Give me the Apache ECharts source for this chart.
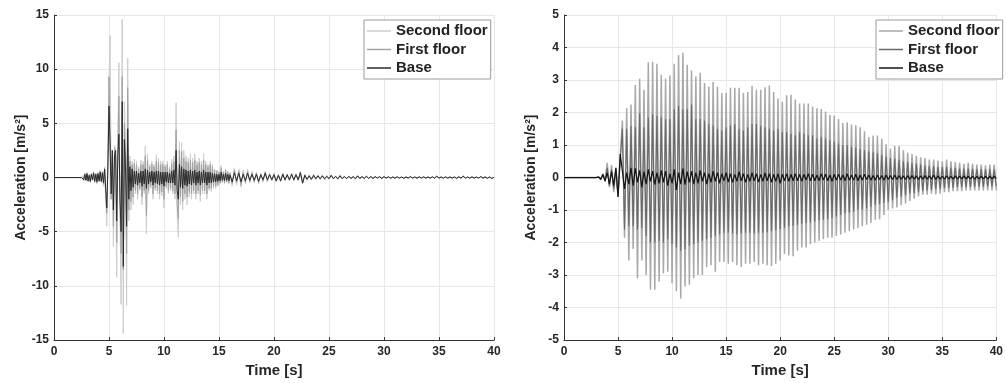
<!DOCTYPE html>
<html><head><meta charset="utf-8">
<script src="https://cdn.jsdelivr.net/npm/echarts@6/dist/echarts.min.js"></script>
<style>html,body{margin:0;padding:0;background:#fff}#c{width:1006px;height:383px}</style>
</head><body><div id="c"></div>
<script>
// ---- Left panel: sampled at 0, then 2.5..16.0 (0.1 s), then 16.2..40.0 (0.2 s)
const leftSecond = [0,
 0,0.2,-0.3,0.4,-0.3,0.5,-0.4,0.3,-0.5,0.4,
 -0.3,0.6,-0.5,0.4,-0.6,0.5,-0.4,0.7,-0.5,0.6,
 -0.8,1.0,-2.0,-4.5,2.0,9.0,13.1,-2.0,2.5,-6.4,
 3.0,2.6,-9.2,3.0,10.6,-3.0,-11.7,14.6,-14.4,7.0,
 3.0,-11.8,11.0,-4.0,2.0,-3.0,1.5,-2.5,1.7,-1.5,
 1.5,-2.0,1.0,-1.2,1.6,-2.5,1.5,-1.5,2.9,-5.2,
 2.2,-1.5,1.2,-1.0,1.5,-2.0,1.2,-1.2,2.1,-1.5,
 1.8,-2.0,1.5,-1.7,1.5,-2.8,1.2,-1.0,1.5,-1.5,
 1.0,-1.2,1.7,-1.5,2.0,-2.0,6.9,-3.5,-5.5,3.3,
 -2.5,3.2,-3.0,2.5,-2.0,2.0,-2.5,1.8,-1.8,2.2,
 -2.0,1.8,-1.5,2.2,-2.0,1.5,-1.5,1.8,-2.2,1.5,
 -1.5,2.2,-1.5,1.5,-2.0,1.2,-1.2,1.5,-1.3,1.2,
 -1.0,0.8,-1.0,0.7,-0.8,0.6,-0.6,1.1,-0.5,0.6,
 -0.6,0.8,-0.5,0.6,-0.6,0.5,
 -0.8,0.9,-0.7,0.8,-0.9,0.7,-0.6,0.8,-0.5,0.6,
 -0.5,0.5,-0.6,0.4,-0.4,0.6,-0.4,0.4,-0.3,0.4,
 -0.4,0.3,-0.4,0.4,-0.3,0.35,-0.3,0.4,-0.3,0.35,
 -0.3,0.55,-0.6,0.3,-0.25,0.25,-0.25,0.3,-0.2,0.25,
 -0.2,0.25,-0.2,0.2,-0.15,0.25,-0.15,0.15,-0.2,0.25,
 -0.15,0.12,-0.12,0.15,-0.12,0.12,-0.15,0.2,-0.12,0.12,
 -0.12,0.15,-0.12,0.12,-0.12,0.12,-0.08,0.12,-0.12,0.12,
 -0.08,0.1,-0.1,0.08,-0.08,0.1,-0.08,0.08,-0.1,0.08,
 -0.08,0.12,-0.08,0.08,-0.1,0.1,-0.08,0.1,-0.08,0.08,
 -0.08,0.1,-0.08,0.16,-0.08,0.08,-0.08,0.1,-0.08,0.08,
 -0.08,0.08,-0.1,0.1,-0.08,0.16,-0.08,0.08,-0.08,0.1,
 -0.08,0.08,-0.08,0.12,-0.08,0.08,-0.1,0.08,-0.12,0.04];
const leftFirst = [0,
 0,0.15,-0.25,0.35,-0.25,0.4,-0.35,0.25,-0.4,0.35,
 -0.25,0.5,-0.4,0.35,-0.5,0.4,-0.35,0.6,-0.4,0.5,
 -0.6,0.8,-1.5,-3.3,1.5,9.3,4.0,-2.0,2.0,-4.5,
 2.7,2.0,-6.0,2.5,7.5,-2.5,-7.0,9.3,-8.5,5.0,
 2.0,-7.0,8.3,-3.0,1.5,-2.2,1.2,-1.8,1.3,-1.2,
 1.2,-1.5,0.8,-1.0,1.2,-1.8,1.2,-1.2,2.0,-3.5,
 1.6,-1.2,1.0,-0.8,1.2,-1.5,1.0,-1.0,1.5,-1.2,
 1.4,-1.5,1.2,-1.3,1.2,-2.0,1.0,-0.8,1.2,-1.2,
 0.8,-1.0,1.3,-1.2,1.5,-1.5,4.4,-2.5,-3.8,2.5,
 -1.8,2.4,-2.2,1.8,-1.5,1.5,-1.8,1.4,-1.4,1.6,
 -1.5,1.4,-1.2,1.6,-1.5,1.2,-1.2,1.4,-1.6,1.2,
 -1.2,1.6,-1.2,1.2,-1.5,1.0,-1.0,1.2,-1.0,1.0,
 -0.8,0.7,-0.8,0.6,-0.7,0.5,-0.5,0.9,-0.4,0.5,
 -0.5,0.7,-0.4,0.5,-0.5,0.4,
 -0.6,0.7,-0.5,0.6,-0.7,0.5,-0.45,0.6,-0.4,0.45,
 -0.4,0.4,-0.45,0.35,-0.35,0.5,-0.35,0.35,-0.25,0.35,
 -0.35,0.25,-0.35,0.35,-0.25,0.3,-0.25,0.35,-0.25,0.3,
 -0.25,0.5,-0.55,0.25,-0.2,0.2,-0.2,0.25,-0.15,0.2,
 -0.15,0.2,-0.15,0.15,-0.12,0.22,-0.12,0.12,-0.15,0.2,
 -0.1,0.1,-0.1,0.12,-0.1,0.1,-0.12,0.16,-0.1,0.1,
 -0.1,0.14,-0.1,0.1,-0.1,0.1,-0.06,0.1,-0.1,0.1,
 -0.06,0.08,-0.08,0.06,-0.06,0.08,-0.06,0.06,-0.08,0.06,
 -0.06,0.1,-0.06,0.06,-0.08,0.08,-0.06,0.08,-0.06,0.06,
 -0.06,0.08,-0.06,0.14,-0.06,0.06,-0.06,0.08,-0.06,0.06,
 -0.06,0.06,-0.08,0.08,-0.06,0.14,-0.06,0.06,-0.06,0.08,
 -0.06,0.06,-0.06,0.1,-0.06,0.06,-0.08,0.06,-0.1,0.03];
const leftBase = [0,
 0,0.1,-0.2,0.3,-0.25,0.35,-0.3,0.2,-0.35,0.3,
 -0.2,0.4,-0.35,0.3,-0.4,0.35,-0.3,0.5,-0.35,0.45,
 -0.5,0.8,-1.0,-2.8,1.0,6.6,3.0,-1.5,2.5,-3.0,
 2.0,2.5,-4.0,2.0,4.0,-2.0,-5.0,7.0,-8.2,3.5,
 1.0,-4.5,4.5,-2.0,1.0,-1.2,0.8,-0.9,0.6,-0.6,
 0.6,-0.7,0.4,-0.5,0.6,-0.8,0.6,-0.6,0.8,-1.0,
 0.7,-0.6,0.5,-0.4,0.6,-0.7,0.5,-0.5,0.6,-0.6,
 0.6,-0.7,0.5,-0.6,0.5,-0.8,0.5,-0.4,0.5,-0.5,
 0.4,-0.5,0.6,-0.5,0.7,-0.7,2.5,-1.2,-2.0,1.2,
 -0.9,1.0,-1.0,0.8,-0.7,0.7,-0.8,0.6,-0.6,0.7,
 -0.7,0.6,-0.5,0.7,-0.7,0.5,-0.5,0.6,-0.7,0.5,
 -0.5,0.7,-0.5,0.5,-0.7,0.5,-0.5,0.5,-0.5,0.4,
 -0.4,0.35,-0.4,0.3,-0.35,0.3,-0.3,0.5,-0.25,0.3,
 -0.3,0.4,-0.25,0.3,-0.3,0.25,
 -0.4,0.45,-0.3,0.4,-0.4,0.3,-0.3,0.4,-0.25,0.3,
 -0.25,0.3,-0.35,0.25,-0.2,0.4,-0.2,0.25,-0.2,0.25,
 -0.3,0.2,-0.3,0.3,-0.2,0.25,-0.2,0.3,-0.2,0.25,
 -0.2,0.45,-0.5,0.2,-0.15,0.15,-0.15,0.2,-0.1,0.15,
 -0.1,0.15,-0.1,0.1,-0.1,0.2,-0.1,0.1,-0.1,0.15,
 -0.08,0.08,-0.08,0.1,-0.08,0.08,-0.1,0.15,-0.08,0.08,
 -0.08,0.12,-0.08,0.08,-0.08,0.08,-0.05,0.08,-0.08,0.08,
 -0.05,0.06,-0.06,0.05,-0.05,0.06,-0.05,0.05,-0.06,0.05,
 -0.05,0.08,-0.05,0.05,-0.06,0.06,-0.05,0.06,-0.05,0.05,
 -0.05,0.06,-0.05,0.12,-0.05,0.05,-0.05,0.06,-0.05,0.05,
 -0.05,0.05,-0.06,0.06,-0.05,0.12,-0.05,0.05,-0.05,0.06,
 -0.05,0.05,-0.05,0.08,-0.05,0.05,-0.06,0.05,-0.08,0.03];

// ---- Right panel: sampled at 0, then 3.0..40.0 (0.2 s)
const rightSecond = [0,
 0,0.02,-0.05,0.12,-0.1,0.45,-0.3,0.38,-0.45,0.3,-0.6,0.6,
 1.75,-1.85,2.13,-2.55,2.25,-2.2,2.85,-3.1,3.04,-2.55,2.7,-3.0,3.55,-3.45,3.56,-3.45,3.5,-3.2,3.16,-2.95,
 3.05,-2.9,3.14,-3.25,3.5,-3.5,3.77,-3.72,3.84,-3.35,3.47,-3.3,3.29,-3.1,3.11,-3.0,3.22,-3.0,2.91,-2.75,
 2.8,-2.7,2.95,-2.9,2.79,-2.6,2.6,-2.6,2.61,-2.65,2.76,-2.6,2.76,-2.7,2.76,-2.75,2.6,-2.65,2.63,-2.65,
 2.82,-2.6,2.7,-2.7,2.7,-2.65,2.78,-2.7,2.83,-2.72,2.63,-2.65,2.43,-2.55,2.33,-2.35,2.53,-2.4,2.55,-2.42,
 2.4,-2.25,2.28,-2.15,2.28,-2.15,2.28,-2.05,2.18,-2.0,2.13,-1.95,2.11,-1.9,2.03,-1.85,1.93,-1.85,1.91,-1.8,
 1.8,-1.75,1.68,-1.7,1.7,-1.65,1.63,-1.6,1.61,-1.55,1.55,-1.5,1.42,-1.45,1.25,-1.4,1.29,-1.3,1.29,-1.28,
 1.19,-1.15,1.02,-1.0,0.89,-0.95,0.97,-0.92,0.97,-0.85,0.84,-0.8,0.77,-0.72,0.72,-0.65,0.67,-0.58,0.62,-0.53,
 0.6,-0.53,0.55,-0.5,0.55,-0.52,0.52,-0.5,0.5,-0.45,0.55,-0.45,0.5,-0.42,0.48,-0.42,0.45,-0.42,0.42,-0.4,
 0.45,-0.4,0.42,-0.4,0.4,-0.4,0.4,-0.4,0.38,-0.4,0.4,-0.4,0.4,-0.4];
const rightFirst = [0,
 0,0.01,-0.04,0.08,-0.08,0.3,-0.25,0.25,-0.35,0.25,-0.55,0.5,
 1.5,-1.6,1.5,-1.5,1.58,-1.5,1.55,-1.6,1.98,-1.55,1.55,-1.8,1.85,-2.0,1.95,-2.0,1.9,-1.95,1.85,-2.0,
 1.8,-1.9,1.8,-2.05,2.1,-2.15,2.2,-2.25,2.1,-2.2,2.1,-2.1,2.25,-2.05,1.8,-2.0,1.8,-1.95,1.75,-1.9,
 1.65,-1.85,1.6,-1.8,1.5,-1.75,1.45,-1.7,1.55,-1.7,1.6,-1.72,1.65,-1.75,1.5,-1.72,1.45,-1.7,1.55,-1.7,
 1.65,-1.72,1.65,-1.7,1.6,-1.7,1.55,-1.68,1.5,-1.65,1.45,-1.62,1.5,-1.58,1.4,-1.55,1.4,-1.5,1.35,-1.48,
 1.3,-1.45,1.4,-1.42,1.35,-1.4,1.3,-1.38,1.3,-1.35,1.2,-1.32,1.25,-1.3,1.2,-1.28,1.15,-1.25,1.1,-1.2,
 1.05,-1.15,1.0,-1.1,1.0,-1.08,0.95,-1.05,0.92,-1.0,0.88,-0.98,0.85,-0.95,0.8,-0.9,0.78,-0.85,0.75,-0.82,
 0.7,-0.78,0.65,-0.75,0.6,-0.7,0.58,-0.62,0.55,-0.58,0.5,-0.55,0.48,-0.5,0.45,-0.48,0.42,-0.45,0.4,-0.42,
 0.38,-0.4,0.35,-0.38,0.35,-0.36,0.33,-0.35,0.32,-0.33,0.32,-0.32,0.3,-0.32,0.3,-0.3,0.28,-0.3,0.28,-0.3,
 0.28,-0.3,0.27,-0.28,0.26,-0.28,0.26,-0.28,0.25,-0.27,0.25,-0.27,0.25,-0.27];
const rightBase = [0,
 0,0.02,-0.06,0.1,-0.12,0.15,-0.2,0.18,-0.25,0.3,-0.6,0.72,
 0.2,-0.35,0.15,-0.2,0.3,-0.25,0.28,-0.15,0.22,-0.3,
 0.18,-0.2,0.25,-0.12,0.2,-0.22,0.15,-0.18,0.22,-0.15,
 0.2,-0.25,0.12,-0.18,0.25,-0.38,0.15,-0.2,0.28,-0.22,
 0.18,-0.15,0.2,-0.2,0.15,-0.18,0.22,-0.12,0.15,-0.2,
 0.12,-0.15,0.2,-0.12,0.15,-0.18,0.12,-0.1,0.15,-0.14,
 0.12,-0.15,0.1,-0.12,0.18,-0.1,0.12,-0.15,0.1,-0.12,
 0.15,-0.1,0.12,-0.14,0.1,-0.12,0.14,-0.1,0.12,-0.15,
 0.1,-0.12,0.12,-0.18,0.1,-0.1,0.12,-0.12,0.1,-0.1,
 0.12,-0.1,0.1,-0.12,0.1,-0.08,0.12,-0.1,0.1,-0.1,
 0.08,-0.1,0.12,-0.08,0.1,-0.1,0.08,-0.12,0.1,-0.08,
 0.1,-0.08,0.08,-0.1,0.12,-0.08,0.08,-0.08,0.1,-0.1,
 0.08,-0.08,0.1,-0.06,0.08,-0.08,0.06,-0.08,0.08,-0.06,
 0.06,-0.08,0.08,-0.06,0.06,-0.06,0.08,-0.06,0.06,-0.05,
 0.05,-0.06,0.06,-0.05,0.06,-0.05,0.05,-0.06,0.05,-0.05,
 0.06,-0.05,0.05,-0.05,0.08,-0.06,0.05,-0.05,0.04,-0.05,
 0.05,-0.04,0.04,-0.05,0.05,-0.04,0.04,-0.04,0.05,-0.04,
 0.04,-0.04,0.04,-0.05,0.04,-0.04,0.04,-0.04,0.04,-0.04,
 0.04,-0.04,0.04,-0.03];

const seriesNames = ['Second floor', 'First floor', 'Base'];
const xTicks = [0, 40, 5];       // min, max, interval
const leftYTicks = [-15, 15, 5];
const rightYTicks = [-5, 5, 1];

// time grids (sampling instants)
const leftTime = [0];
for (let i = 0; i <= 135; i++) leftTime.push(Math.round((2.5 + 0.1 * i) * 10) / 10);
for (let i = 1; i <= 120; i++) leftTime.push(Math.round((16 + 0.2 * i) * 10) / 10);
const rightTime = [0];
for (let i = 0; i <= 185; i++) rightTime.push(Math.round((3 + 0.2 * i) * 10) / 10);

const pair = (ts, vs) => vs.map((v, i) => [ts[i], v]);

const FONT = 'Liberation Sans, Arial, sans-serif';
const TXT = '#262626';

function xAxis(gi) {
  return {
    gridIndex: gi, type: 'value', min: xTicks[0], max: xTicks[1], interval: xTicks[2],
    name: 'Time [s]', nameLocation: 'middle', nameGap: 22,
    nameTextStyle: {fontFamily: FONT, fontWeight: 'bold', fontSize: 15, color: TXT},
    axisLine: {show: true, onZero: false, lineStyle: {color: '#333', width: 1}},
    axisTick: {show: true, inside: true, length: 3, lineStyle: {color: '#333'}},
    axisLabel: {fontFamily: FONT, fontWeight: 'bold', fontSize: 12, color: TXT, margin: 6},
    splitLine: {show: true, lineStyle: {color: '#e8e8e8', width: 1}}
  };
}
function yAxis(gi, t) {
  return {
    gridIndex: gi, type: 'value', min: t[0], max: t[1], interval: t[2],
    name: 'Acceleration [m/s²]', nameLocation: 'middle', nameGap: 26,
    nameTextStyle: {fontFamily: FONT, fontWeight: 'bold', fontSize: 14, color: TXT},
    axisLine: {show: true, onZero: false, lineStyle: {color: '#333', width: 1}},
    axisTick: {show: true, inside: true, length: 3, lineStyle: {color: '#333'}},
    axisLabel: {fontFamily: FONT, fontWeight: 'bold', fontSize: 12, color: TXT, margin: 5},
    splitLine: {show: true, lineStyle: {color: '#e8e8e8', width: 1}}
  };
}
function line(name, gi, data, color, width, z) {
  return {
    type: 'line', name: name, xAxisIndex: gi, yAxisIndex: gi, data: data,
    symbol: 'none', showSymbol: false, sampling: null, z: z,
    lineStyle: {color: color, width: width}, itemStyle: {color: color},
    emphasis: {disabled: true}
  };
}
function legend(left, names) {
  return {
    data: names, left: left, top: 20, orient: 'vertical',
    icon: 'rect', itemWidth: 24, itemHeight: 1.5, itemGap: 2.5, itemTextGap: 2,
    padding: [3, 3, 3, 3], borderColor: '#9a9a9a', borderWidth: 1, backgroundColor: '#fff',
    selectedMode: false,
    formatter: n => n.replace(/ R$/, ''),
    textStyle: {fontFamily: FONT, fontWeight: 'bold', fontSize: 15, color: '#222', lineHeight: 16}
  };
}

const rNames = seriesNames.map(n => n + ' R');
const chart = echarts.init(document.getElementById('c'), null, {renderer: 'canvas'});
chart.setOption({
  animation: false,
  backgroundColor: '#fff',
  grid: [
    {left: 54, right: 512, top: 15, bottom: 38},
    {left: 564, right: 0, top: 15, bottom: 37}
  ],
  xAxis: [xAxis(0), xAxis(1)],
  yAxis: [yAxis(0, leftYTicks), yAxis(1, rightYTicks)],
  legend: [legend(364, seriesNames), legend(876, rNames)],
  series: [
    line(seriesNames[0], 0, pair(leftTime, leftSecond), '#cdcdcd', 1, 2),
    line(seriesNames[1], 0, pair(leftTime, leftFirst), '#a3a3a3', 1, 3),
    line(seriesNames[2], 0, pair(leftTime, leftBase), '#2b2b2b', 1, 4),
    line(rNames[0], 1, pair(rightTime, rightSecond), '#a8a8a8', 1.5, 2),
    line(rNames[1], 1, pair(rightTime, rightFirst), '#6a6a6a', 1.1, 3),
    line(rNames[2], 1, pair(rightTime, rightBase), '#141414', 1.2, 4)
  ]
});
</script></body></html>
